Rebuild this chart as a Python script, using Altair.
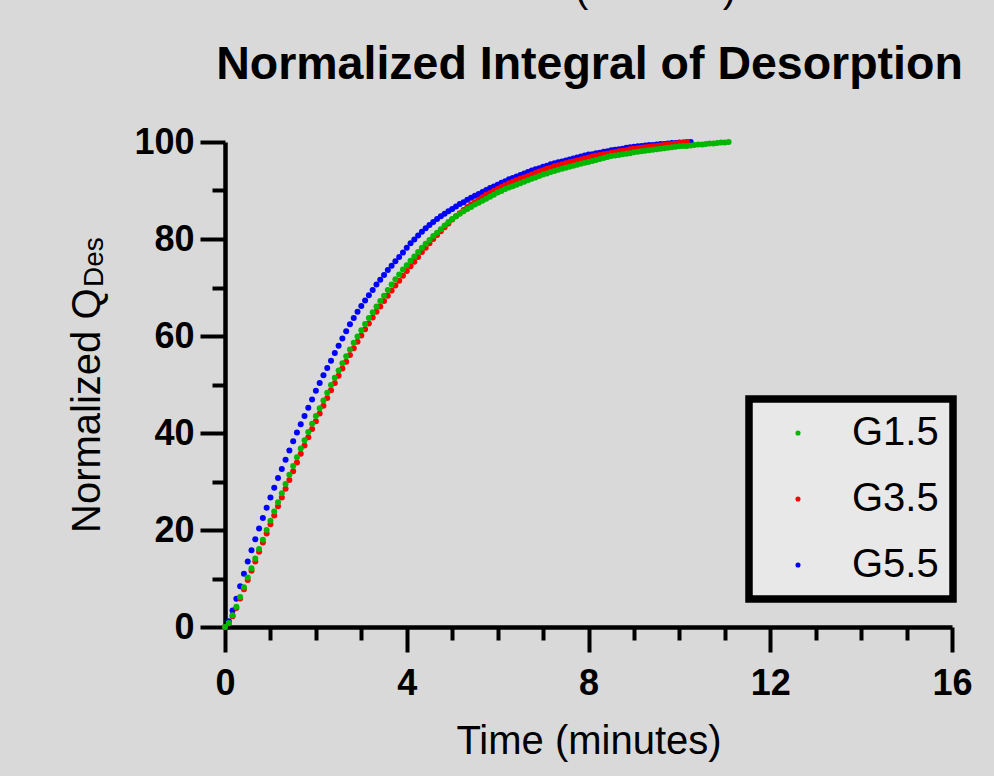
import altair as alt
import pandas as pd

# sample times in seconds (5-second logging interval)
time_seconds = [
    0, 5, 10, 15, 20, 25, 30, 35, 40, 45,
    50, 55, 60, 65, 70, 75, 80, 85, 90, 95,
    100, 105, 110, 115, 120, 125, 130, 135, 140, 145,
    150, 155, 160, 165, 170, 175, 180, 185, 190, 195,
    200, 205, 210, 215, 220, 225, 230, 235, 240, 245,
    250, 255, 260, 265, 270, 275, 280, 285, 290, 295,
    300, 305, 310, 315, 320, 325, 330, 335, 340, 345,
    350, 355, 360, 365, 370, 375, 380, 385, 390, 395,
    400, 405, 410, 415, 420, 425, 430, 435, 440, 445,
    450, 455, 460, 465, 470, 475, 480, 485, 490, 495,
    500, 505, 510, 515, 520, 525, 530, 535, 540, 545,
    550, 555, 560, 565, 570, 575, 580, 585, 590, 595,
    600, 605, 610, 615, 620, 625, 630, 635, 640, 645,
    650, 655, 660, 665,
]

g15 = [
    0.0, 0.8, 2.4, 4.2, 6.2, 8.2, 10.2, 12.1, 14.1, 16.1,
    18.0, 20.0, 21.9, 23.8, 25.7, 27.6, 29.5, 31.4, 33.2, 35.0,
    36.8, 38.5, 40.2, 41.9, 43.5, 45.1, 46.7, 48.3, 49.9, 51.4,
    52.9, 54.4, 55.8, 57.2, 58.6, 59.9, 61.2, 62.5, 63.7, 64.9,
    66.1, 67.2, 68.3, 69.5, 70.6, 71.7, 72.7, 73.7, 74.6, 75.5,
    76.4, 77.3, 78.2, 79.0, 79.8, 80.6, 81.3, 82.0, 82.8, 83.5,
    84.1, 84.7, 85.2, 85.7, 86.2, 86.6, 87.1, 87.5, 87.9, 88.3,
    88.7, 89.1, 89.6, 89.9, 90.3, 90.6, 90.9, 91.2, 91.5, 91.8,
    92.1, 92.4, 92.7, 93.0, 93.3, 93.5, 93.8, 94.0, 94.3, 94.5,
    94.7, 94.9, 95.1, 95.3, 95.5, 95.7, 95.9, 96.1, 96.3, 96.5,
    96.7, 96.9, 97.1, 97.2, 97.3, 97.5, 97.6, 97.7, 97.9, 98.0,
    98.1, 98.2, 98.3, 98.4, 98.5, 98.6, 98.7, 98.8, 98.9, 99.0,
    99.1, 99.2, 99.2, 99.3, 99.4, 99.5, 99.5, 99.6, 99.7, 99.7,
    99.8, 99.9, 99.9, 100.0,
]

g35 = [
    0.0, 0.7, 2.2, 3.9, 5.9, 7.8, 9.7, 11.6, 13.5, 15.5,
    17.4, 19.3, 21.2, 23.0, 24.9, 26.7, 28.5, 30.3, 32.1, 33.9,
    35.7, 37.4, 39.1, 40.8, 42.4, 44.0, 45.6, 47.2, 48.8, 50.3,
    51.8, 53.3, 54.7, 56.1, 57.5, 58.8, 60.1, 61.4, 62.6, 63.8,
    65.0, 66.1, 67.2, 68.3, 69.4, 70.4, 71.4, 72.4, 73.4, 74.4,
    75.3, 76.3, 77.3, 78.2, 79.1, 80.0, 80.8, 81.6, 82.4, 83.2,
    84.0, 84.7, 85.3, 86.0, 86.6, 87.1, 87.6, 88.1, 88.6, 89.1,
    89.5, 89.9, 90.3, 90.7, 91.1, 91.5, 91.8, 92.1, 92.4, 92.7,
    93.0, 93.3, 93.6, 93.9, 94.2, 94.5, 94.7, 95.0, 95.2, 95.4,
    95.6, 95.8, 96.0, 96.2, 96.4, 96.6, 96.8, 97.0, 97.2, 97.3,
    97.5, 97.6, 97.8, 97.9, 98.1, 98.2, 98.3, 98.5, 98.6, 98.7,
    98.8, 98.9, 99.0, 99.1, 99.2, 99.3, 99.4, 99.5, 99.6, 99.7,
    99.8, 99.9, 100.0,
]

g55 = [
    0.0, 1.2, 3.4, 5.8, 8.4, 11.0, 13.5, 15.8, 18.1, 20.3,
    22.5, 24.6, 26.7, 28.7, 30.7, 32.6, 34.5, 36.4, 38.3, 40.1,
    41.8, 43.5, 45.2, 46.9, 48.7, 50.3, 51.9, 53.4, 54.9, 56.5,
    58.0, 59.5, 61.0, 62.4, 63.7, 65.0, 66.2, 67.3, 68.4, 69.5,
    70.6, 71.6, 72.6, 73.6, 74.5, 75.4, 76.3, 77.2, 78.2, 79.1,
    79.9, 80.7, 81.5, 82.2, 82.9, 83.5, 84.1, 84.7, 85.2, 85.7,
    86.2, 86.7, 87.2, 87.6, 88.1, 88.5, 88.9, 89.3, 89.7, 90.1,
    90.5, 90.8, 91.2, 91.6, 91.9, 92.3, 92.6, 92.9, 93.2, 93.5,
    93.8, 94.1, 94.4, 94.6, 94.9, 95.1, 95.4, 95.6, 95.8, 96.0,
    96.2, 96.4, 96.6, 96.8, 97.0, 97.2, 97.4, 97.5, 97.7, 97.8,
    98.0, 98.1, 98.3, 98.4, 98.5, 98.6, 98.8, 98.9, 99.0, 99.1,
    99.2, 99.3, 99.4, 99.4, 99.5, 99.6, 99.6, 99.7, 99.8, 99.8,
    99.9, 99.9, 100.0, 100.0,
]

series_names = ["G1.5", "G3.5", "G5.5"]
series_colors = ["#00b800", "#ff0000", "#0000ff"]
x_tick_values = [0, 1, 2, 3, 4, 5, 6, 7, 8, 9, 10, 11, 12, 13, 14, 15, 16]
y_tick_values = [0, 10, 20, 30, 40, 50, 60, 70, 80, 90, 100]
title_text = "Normalized Integral of Desorption"
x_title = "Time (minutes)"
y_title_main = "Normalized Q"
y_title_sub = "Des"

FONT = "Liberation Sans"

rows = []
# drawing order: G5.5 first, then G3.5, G1.5 on top
for name, vals in (("G5.5", g55), ("G3.5", g35), ("G1.5", g15)):
    for s, v in zip(time_seconds, vals):
        rows.append({"series": name, "time": s / 60.0, "value": v})
df = pd.DataFrame(rows)

points = alt.Chart(df).mark_circle(size=36, opacity=1).encode(
    x=alt.X(
        "time:Q",
        scale=alt.Scale(domain=[0, 16], nice=False, zero=False),
        axis=alt.Axis(
            values=x_tick_values,
            title=x_title,
            labelExpr="datum.value % 4 === 0 ? datum.label : ''",
            tickSize={"condition": {"test": "datum.value % 4 === 0", "value": 25}, "value": 13},
            labelFontSize=36,
            labelFontWeight="bold",
            labelPadding=14,
            labelFlush=False,
            labelOverlap=False,
            titleFontSize=40,
            titleFontWeight="normal",
            titlePadding=20,
            grid=False,
        ),
    ),
    y=alt.Y(
        "value:Q",
        scale=alt.Scale(domain=[0, 100], nice=False),
        axis=alt.Axis(
            values=y_tick_values,
            title=None,
            labelExpr="datum.value % 20 === 0 ? datum.label : ''",
            tickSize={"condition": {"test": "datum.value % 20 === 0", "value": 25}, "value": 13},
            labelFontSize=36,
            labelFontWeight="bold",
            labelPadding=6,
            labelOverlap=False,
            grid=False,
        ),
    ),
    color=alt.Color(
        "series:N",
        scale=alt.Scale(domain=series_names, range=series_colors),
        legend=alt.Legend(
            title=None,
            orient="none",
            legendX=524,
            legendY=257,
            padding=14,
            symbolType="circle",
            symbolSize=26,
            symbolOffset=15,
            labelOffset=34,
            labelFont=FONT,
            labelFontSize=40,
            labelColor="black",
            rowPadding=26,
            fillColor="#e8e8e8",
            strokeColor="black",
        ),
    ),
)

title_mark = alt.Chart(pd.DataFrame({"label": [title_text]})).mark_text(
    align="center", baseline="alphabetic", fontSize=46.5, fontWeight="bold", font=FONT, color="black"
).encode(text="label:N", x=alt.value(364.5), y=alt.value(-63.5))

ytitle = alt.Chart(pd.DataFrame({"label": [y_title_main]})).mark_text(
    angle=270, align="left", baseline="alphabetic", fontSize=40, font=FONT, color="black"
).encode(text="label:N", x=alt.value(-125), y=alt.value(391))

ysub = alt.Chart(pd.DataFrame({"label": [y_title_sub]})).mark_text(
    angle=270, align="left", baseline="alphabetic", fontSize=28, font=FONT, color="black"
).encode(text="label:N", x=alt.value(-122), y=alt.value(145))

lparen = alt.Chart(pd.DataFrame({"label": ["("]})).mark_text(
    align="left", baseline="alphabetic", fontSize=40, font=FONT, color="black"
).encode(text="label:N", x=alt.value(350), y=alt.value(-140))

rparen = alt.Chart(pd.DataFrame({"label": [")"]})).mark_text(
    align="right", baseline="alphabetic", fontSize=40, font=FONT, color="black"
).encode(text="label:N", x=alt.value(511), y=alt.value(-140))

chart = (
    alt.layer(points, title_mark, ytitle, ysub, lparen, rparen)
    .properties(
        width=727,
        height=485,
        padding={"left": 225, "top": 142, "right": 42, "bottom": 149},
        autosize=alt.AutoSizeParams(type="none"),
    )
    .configure(background="#d9d9d9")
    .configure_view(stroke=None)
    .configure_legend(strokeWidth=7.5)
    .configure_axis(
        domainColor="black",
        domainWidth=4.5,
        tickColor="black",
        tickWidth=4,
        labelColor="black",
        titleColor="black",
        labelFont=FONT,
        titleFont=FONT,
    )
)

chart.save("out.html", embed_options={"renderer": "svg", "actions": False})
